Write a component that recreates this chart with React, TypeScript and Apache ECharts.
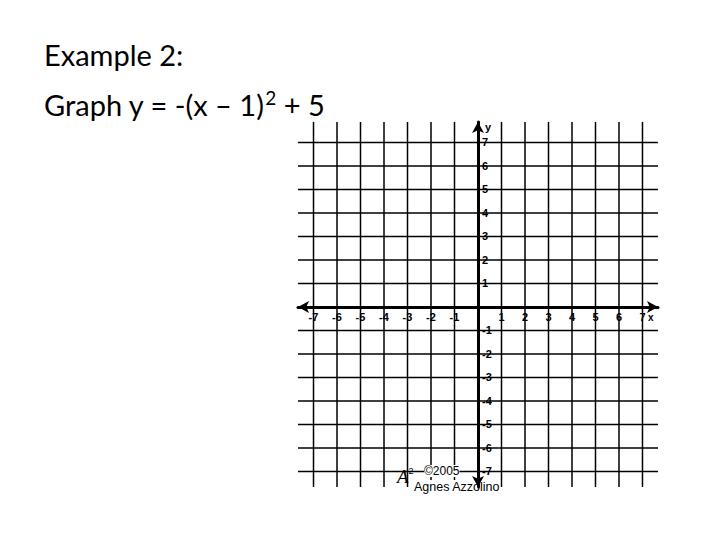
import React, { useEffect, useRef } from 'react';
import * as echarts from 'echarts';

// Tick labels shown on each axis (0 is not labelled)
const X_TICKS = [-7, -6, -5, -4, -3, -2, -1, 1, 2, 3, 4, 5, 6, 7];
const Y_TICKS = [-7, -6, -5, -4, -3, -2, -1, 1, 2, 3, 4, 5, 6, 7];
// Visible extent of the graph paper in axis units
const X_RANGE = [-7.66, 7.66];
const Y_RANGE = [-7.66, 7.87];
// Texts
const TITLE_LINE_1 = 'Example 2:';
const TITLE_LINE_2 = ['Graph y = -(x – 1)', '2', ' + 5'];
const AXIS_NAMES = ['x', 'y'];
const CREDIT_LOGO = ['A', '2'];
const CREDIT_YEAR = '©2005';
const CREDIT_NAME = 'Agnes Azzolino';

const LABEL_FONT = 'Liberation Sans';

const GRID = { left: 298, right: 62, top: 122, bottom: 53 };
const W = 720;
const H = 540;

export default function App() {
  const ref = useRef<HTMLDivElement>(null);

  useEffect(() => {
    if (!ref.current) return;
    const chart = echarts.init(ref.current, null, { renderer: 'svg' });

    const fmt = (ticks: number[]) => (v: number) =>
      ticks.indexOf(Math.round(v * 1000) / 1000) >= 0 ? String(v) : '';

    const gridW = W - GRID.left - GRID.right;
    const gridH = H - GRID.top - GRID.bottom;
    // move each axis from the grid edge onto the other axis's zero
    const xAxisOffset = -(-Y_RANGE[0] / (Y_RANGE[1] - Y_RANGE[0])) * gridH;
    const yAxisOffset = -(-X_RANGE[0] / (X_RANGE[1] - X_RANGE[0])) * gridW;

    const axisCommon = {
      type: 'value' as const,
      splitNumber: 15,
      z: 20,
      axisLine: {
        show: true,
        onZero: false,
        symbol: ['arrow', 'arrow'],
        symbolSize: [9, 11],
        lineStyle: { color: '#000', width: 3 },
      },
      axisTick: { show: false },
      splitLine: { show: false },
    };

    const lineStyle = { stroke: '#000', lineWidth: 1.5 };

    chart.setOption({
      animation: false,
      backgroundColor: '#ffffff',
      grid: GRID,
      xAxis: {
        ...axisCommon,
        position: 'bottom',
        offset: xAxisOffset,
        min: X_RANGE[0],
        max: X_RANGE[1],
        axisLabel: {
          formatter: fmt(X_TICKS),
          margin: 5,
          color: '#000',
          fontFamily: LABEL_FONT,
          fontWeight: 'bold',
          fontSize: 11,
        },
      },
      yAxis: {
        ...axisCommon,
        position: 'left',
        offset: yAxisOffset,
        min: Y_RANGE[0],
        max: Y_RANGE[1],
        axisLabel: {
          inside: true,
          formatter: fmt(Y_TICKS),
          margin: 4,
          color: '#000',
          fontFamily: LABEL_FONT,
          fontWeight: 'bold',
          fontSize: 11,
        },
      },
      series: [
        {
          type: 'custom',
          name: 'vertical grid',
          coordinateSystem: 'cartesian2d',
          silent: true,
          z: 1,
          data: X_TICKS.map((v) => [v, 0]),
          renderItem: (_p: any, api: any) => {
            const v = api.value(0);
            const a = api.coord([v, Y_RANGE[0]]);
            const b = api.coord([v, Y_RANGE[1]]);
            return { type: 'line', shape: { x1: a[0], y1: a[1], x2: b[0], y2: b[1] }, style: lineStyle };
          },
        },
        {
          type: 'custom',
          name: 'horizontal grid',
          coordinateSystem: 'cartesian2d',
          silent: true,
          z: 1,
          data: Y_TICKS.map((v) => [0, v]),
          renderItem: (_p: any, api: any) => {
            const v = api.value(1);
            const a = api.coord([X_RANGE[0], v]);
            const b = api.coord([X_RANGE[1], v]);
            return { type: 'line', shape: { x1: a[0], y1: a[1], x2: b[0], y2: b[1] }, style: lineStyle };
          },
        },
      ],
      graphic: [
        {
          type: 'text',
          left: 44,
          top: 40,
          style: { text: TITLE_LINE_1, fill: '#000', font: '29px Lato' },
        },
        {
          type: 'text',
          left: 44,
          top: 88,
          style: {
            text: `{m|${TITLE_LINE_2[0]}}{s|${TITLE_LINE_2[1]}}{m|${TITLE_LINE_2[2]}}`,
            fill: '#000',
            rich: {
              m: { fontFamily: 'Lato', fontSize: 29, lineHeight: 32, fill: '#000' },
              s: { fontFamily: 'Lato', fontSize: 19, lineHeight: 20, verticalAlign: 'top', fill: '#000' },
            },
          },
        },
        {
          type: 'text',
          left: 485,
          top: 121,
          style: { text: AXIS_NAMES[1], fill: '#000', font: 'bold 11px ' + LABEL_FONT },
        },
        {
          type: 'text',
          left: 648,
          top: 312,
          style: { text: AXIS_NAMES[0], fill: '#000', font: 'bold 10px ' + LABEL_FONT },
        },
        {
          type: 'text',
          left: 397,
          top: 466,
          z: 10,
          style: {
            text: `{a|${CREDIT_LOGO[0]}}{b|${CREDIT_LOGO[1]}}`,
            fill: '#000',
            rich: {
              a: { fontFamily: 'Liberation Serif', fontStyle: 'italic', fontSize: 19, lineHeight: 21, fill: '#000' },
              b: { fontFamily: LABEL_FONT, fontSize: 9, lineHeight: 10, verticalAlign: 'top', fill: '#000' },
            },
          },
        },
        {
          type: 'text',
          left: 424,
          top: 465,
          z: 10,
          style: { text: CREDIT_YEAR, fill: '#000', font: '12px ' + LABEL_FONT, backgroundColor: '#fff' },
        },
        {
          type: 'text',
          left: 414,
          top: 480,
          z: 10,
          style: { text: CREDIT_NAME, fill: '#000', font: '12.5px ' + LABEL_FONT, backgroundColor: '#fff' },
        },
      ],
    });

    return () => chart.dispose();
  }, []);

  return (
    <div
      ref={ref}
      style={{ position: 'fixed', left: 0, top: 0, width: W, height: H, background: '#fff' }}
    />
  );
}
